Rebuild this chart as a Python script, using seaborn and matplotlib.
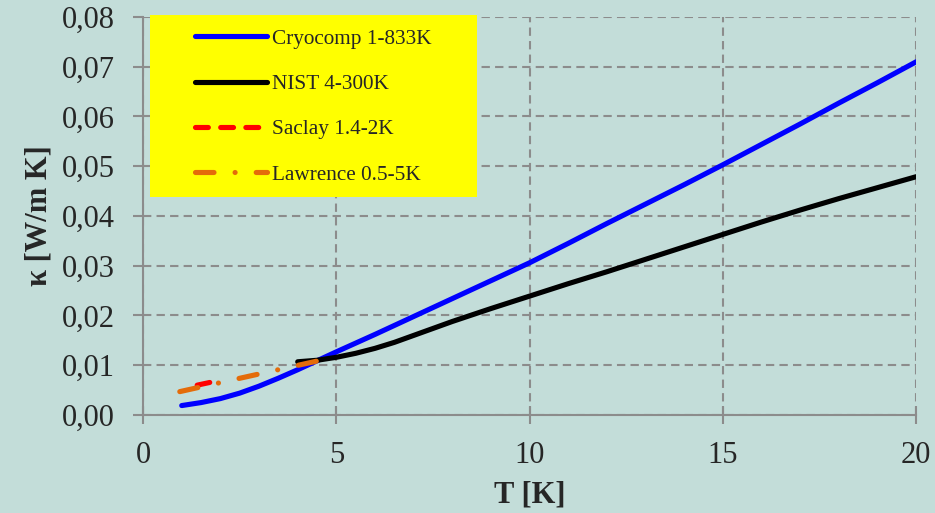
import matplotlib
matplotlib.use("Agg")
import matplotlib.pyplot as plt
import matplotlib.ticker as mticker
from matplotlib.patches import Rectangle
import seaborn as sns

# Cryocomp fit 1-833K
cryo_T = [1, 1.5, 2, 2.5, 3, 3.5, 4, 4.5, 5, 6, 7, 8, 9, 10, 11, 12, 13, 14, 15, 16, 17, 18, 19, 20]
cryo_k = [0.0019, 0.0025, 0.0033, 0.0044, 0.0058, 0.0074, 0.0091, 0.0109, 0.0127, 0.0162,
          0.0198, 0.0234, 0.0270, 0.0306, 0.0345, 0.0385, 0.0424, 0.0463, 0.0503, 0.0544,
          0.0585, 0.0627, 0.0668, 0.0710]

# NIST fit 4-300K
nist_T = [4, 4.5, 5, 5.5, 6, 6.5, 7, 7.5, 8, 9, 10, 11, 12, 13, 14, 15, 16, 17, 18, 19, 20]
nist_k = [0.0107, 0.0110, 0.0116, 0.0124, 0.0134, 0.0146, 0.0160, 0.0174, 0.0188, 0.0214,
          0.0239, 0.0264, 0.0288, 0.0313, 0.0338, 0.0363, 0.0388, 0.0412, 0.0435, 0.0457,
          0.0479]

# Saclay 1.4-2K
saclay_T = [1.4, 2.0]
saclay_k = [0.0060, 0.0070]

# Lawrence 0.5-5K
lawr_T = [0.95, 4.65]
lawr_k = [0.0047, 0.0111]

labels = ["Cryocomp 1-833K", "NIST 4-300K", "Saclay 1.4-2K", "Lawrence 0.5-5K"]

bg = "#c3ddd9"
sns.set_theme(style="white")
plt.rcParams["font.family"] = ["Liberation Serif", "DejaVu Serif"]

fig = plt.figure(figsize=(9.35, 5.13), dpi=100, facecolor=bg)
ax = fig.add_axes([0.153, 0.191, 0.827, 0.776], facecolor=bg)

lw = 3.7
sns.lineplot(x=cryo_T, y=cryo_k, ax=ax, color="#0000ff", lw=lw, label=labels[0],
             solid_capstyle="round", zorder=3)
sns.lineplot(x=nist_T, y=nist_k, ax=ax, color="#000000", lw=lw, label=labels[1],
             solid_capstyle="round", zorder=3)
sns.lineplot(x=saclay_T, y=saclay_k, ax=ax, color="#ff0000", lw=lw, label=labels[2],
             linestyle=(0, (2.5, 2.4)), dash_capstyle="round", zorder=4)
sns.lineplot(x=lawr_T, y=lawr_k, ax=ax, color="#e46c0a", lw=lw, label=labels[3],
             linestyle=(0, (3.6, 4.1, 0.01, 4.1)), dash_capstyle="round", zorder=5)

ax.set_xlim(0, 20)
ax.set_ylim(0, 0.08)
ax.xaxis.set_major_locator(mticker.MultipleLocator(5))
ax.yaxis.set_major_locator(mticker.MultipleLocator(0.01))
ax.yaxis.set_major_formatter(mticker.FuncFormatter(lambda v, p: f"{v:.2f}".replace(".", ",")))

ax.grid(True, color="#8c8c8c", linestyle=(0, (4, 2.5)), linewidth=1.5)
for s in ["top", "right"]:
    ax.spines[s].set_visible(False)
for s in ["left", "bottom"]:
    ax.spines[s].set_color("#8c8c8c")
    ax.spines[s].set_linewidth(1.5)

ax.tick_params(axis="y", direction="out", length=7.5, width=1.5, color="#8c8c8c",
               labelsize=22, pad=13, left=True)
ax.tick_params(axis="x", direction="inout", length=13, width=1.5, color="#8c8c8c",
               labelsize=22, pad=12, bottom=True)

ax.set_xlabel("T [K]", fontsize=22, fontweight="bold", labelpad=8)
ax.set_ylabel("κ [W/m K]", fontsize=22, fontweight="bold", labelpad=6)

# yellow legend box
ax.add_patch(Rectangle((0.009, 0.548), 0.423, 0.457, transform=ax.transAxes,
                       facecolor="#ffff00", edgecolor="none", zorder=6, clip_on=False))
leg = ax.legend(loc="upper left", bbox_to_anchor=(0.067, 0.970), frameon=False,
                fontsize=15.3, handlelength=3.4, handletextpad=0.25,
                labelspacing=1.2, borderpad=0, borderaxespad=0)
leg.set_zorder(7)

fig.savefig("out.png", dpi=100, facecolor=bg)
